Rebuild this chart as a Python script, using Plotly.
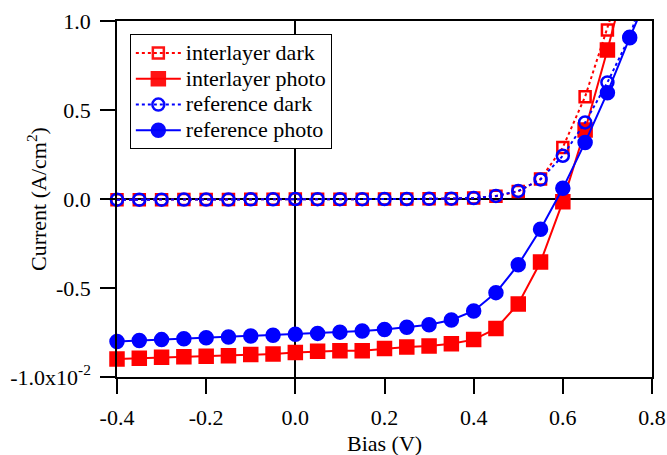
import plotly.graph_objects as go

bias = [-0.4, -0.35, -0.3, -0.25, -0.2, -0.15, -0.1, -0.05, 0.0, 0.05, 0.1, 0.15,
        0.2, 0.25, 0.3, 0.35, 0.4, 0.45, 0.5, 0.55, 0.6, 0.65, 0.7, 0.75, 0.8]

interlayer_dark = [-0.004, -0.004, -0.004, -0.003, -0.003, -0.003, -0.002, -0.002, 0.0, -0.001,
                   -0.001, -0.001, 0.0, 0.0, 0.001, 0.002, 0.005, 0.016, 0.042, 0.112,
                   0.29, 0.575, 0.949, 1.35, 1.8]
interlayer_photo = [-0.899, -0.895, -0.889, -0.886, -0.884, -0.88, -0.873, -0.871, -0.863, -0.856,
                    -0.852, -0.852, -0.84, -0.831, -0.826, -0.813, -0.79, -0.728, -0.59, -0.354,
                    -0.015, 0.388, 0.837, 1.32, 1.8]
reference_dark = [-0.004, -0.004, -0.004, -0.003, -0.003, -0.003, -0.002, -0.002, 0.0, -0.001,
                  -0.001, -0.001, 0.0, 0.0, 0.001, 0.002, 0.005, 0.017, 0.045, 0.11,
                  0.243, 0.43, 0.655, 0.912, 1.3]
reference_photo = [-0.80, -0.795, -0.79, -0.785, -0.78, -0.775, -0.77, -0.765, -0.76, -0.755,
                   -0.748, -0.742, -0.733, -0.721, -0.706, -0.68, -0.629, -0.526, -0.369, -0.170,
                   0.06, 0.318, 0.597, 0.906, 1.2]

x_ticks = [-0.4, -0.2, 0.0, 0.2, 0.4, 0.6, 0.8]
x_tick_text = ["-0.4", "-0.2", "0.0", "0.2", "0.4", "0.6", "0.8"]
y_ticks = [-1.0, -0.5, 0.0, 0.5, 1.0]
y_tick_text = ["-1.0x10<sup>-2</sup>", "-0.5", "0.0", "0.5", "1.0"]

x_title = "Bias (V)"
y_title = "Current (A/cm<sup>2</sup>)"

Y_MAX = 1.0
FONT = "Liberation Serif"
LEGEND_TEXT_SIZE = 22

series = [
    ("interlayer dark", interlayer_dark, "red", "dot", "square-open", 11),
    ("interlayer photo", interlayer_photo, "red", "solid", "square", 13),
    ("reference dark", reference_dark, "blue", "dot", "circle-open", 12),
    ("reference photo", reference_photo, "blue", "solid", "circle", 13),
]

fig = go.Figure()
for name, vals, color, dash, symbol, size in series:
    opac = [1 if v <= Y_MAX else 0 for v in vals]
    fig.add_trace(go.Scatter(
        x=bias, y=vals,
        name=f'<span style="font-size:{LEGEND_TEXT_SIZE}px">{name}</span>',
        mode="lines+markers",
        line=dict(color=color, width=2, dash=dash),
        marker=dict(symbol=symbol, size=size, color=color, opacity=opac,
                    line=dict(width=2.5, color=color)),
        cliponaxis=False,
    ))

axis_common = dict(
    showline=True, linecolor="black", linewidth=1.5, mirror=True,
    ticks="outside", ticklen=15, tickwidth=1.5, tickcolor="black",
    showgrid=False, zeroline=True, zerolinecolor="black", zerolinewidth=2,
    tickfont=dict(family=FONT, size=22, color="black"),
    automargin=False,
)

fig.update_layout(
    width=667, height=455,
    margin=dict(l=117, r=15, t=21, b=78),
    paper_bgcolor="white", plot_bgcolor="white",
    font=dict(family=FONT, size=22, color="black"),
    xaxis=dict(range=[-0.4, 0.8], tickvals=x_ticks, ticktext=x_tick_text,
               ticklabelstandoff=5, **axis_common),
    yaxis=dict(range=[-1.0, 1.0], tickvals=y_ticks, ticktext=y_tick_text,
               ticklabelstandoff=5, **axis_common),
    legend=dict(x=0.024, y=0.963, xanchor="left", yanchor="top",
                bgcolor="white", bordercolor="black", borderwidth=1,
                font=dict(family=FONT, size=17.5), tracegroupgap=0,
                itemwidth=45),
    annotations=[
        dict(text=x_title, xref="paper", yref="paper", x=0.5, y=-0.188,
             xanchor="center", yanchor="middle", showarrow=False,
             font=dict(family=FONT, size=22, color="black")),
        dict(text=y_title, xref="paper", yref="paper", x=-0.1495, y=0.5,
             xanchor="center", yanchor="middle", showarrow=False, textangle=-90,
             font=dict(family=FONT, size=22, color="black")),
    ],
    showlegend=True,
)

fig.write_html("out.html", config={"displayModeBar": False},
               post_script="document.body.style.margin='0px';")
